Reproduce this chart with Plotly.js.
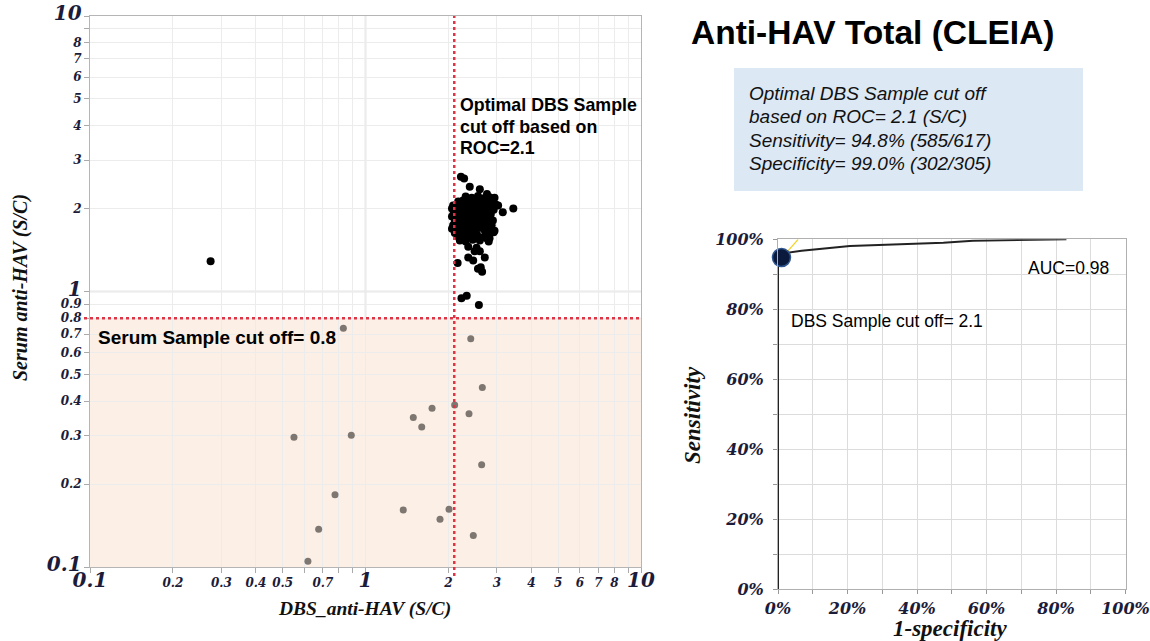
<!DOCTYPE html>
<html>
<head>
<meta charset="utf-8">
<script src="https://cdn.plot.ly/plotly-3.0.1.min.js"></script>
<style>html,body{margin:0;padding:0;background:#fff;}#chart{width:1150px;height:641px;}</style>
</head>
<body>
<div id="chart"></div>
<script>
// ---------- Data: scatter of DBS vs serum anti-HAV (S/C) ----------
// Serum-positive samples (black)
var pos_dbs = [
  2.22,2.28,2.39,2.60,2.76,2.94,3.44,3.03,3.15,
  2.31,2.43,2.56,2.69,2.82,
  2.17,2.26,2.37,2.49,2.62,2.76,2.90,
  2.08,2.15,2.24,2.33,2.45,2.58,2.71,2.85,2.97,
  2.06,2.13,2.22,2.31,2.41,2.52,2.64,2.78,2.92,
  2.09,2.18,2.28,2.37,2.47,2.60,2.73,2.85,
  2.06,2.15,2.24,2.35,2.45,2.56,2.69,2.83,
  2.11,2.20,2.31,2.41,2.52,2.64,2.78,2.90,
  2.08,2.17,2.26,2.37,2.47,2.60,2.73,2.87,
  2.06,2.15,2.24,2.33,2.43,2.56,2.69,2.85,2.94,
  2.11,2.22,2.31,2.43,2.54,2.76,2.92,
  2.17,2.26,2.39,2.52,2.69,2.82,2.75,
  2.20,2.31,2.45,2.60,2.80,
  2.36,2.53,2.60,2.49,2.71,2.36,2.46,2.16,2.62,2.65,2.56,
  2.23,2.33,2.58,
  0.274
];
var pos_serum = [
  2.61,2.57,2.40,2.35,2.26,2.19,2.00,2.05,1.94,
  2.21,2.19,2.22,2.18,2.20,
  2.12,2.14,2.13,2.11,2.14,2.12,2.13,
  2.05,2.07,2.06,2.04,2.07,2.05,2.06,2.04,2.07,
  2.00,1.99,2.01,1.98,2.00,2.01,1.99,2.00,1.98,
  1.93,1.94,1.92,1.93,1.95,1.92,1.93,1.91,
  1.87,1.86,1.88,1.85,1.87,1.86,1.88,1.85,
  1.80,1.81,1.79,1.80,1.82,1.79,1.80,1.81,
  1.74,1.75,1.73,1.75,1.74,1.76,1.73,1.74,
  1.69,1.68,1.70,1.69,1.67,1.70,1.68,1.69,1.66,
  1.63,1.64,1.62,1.63,1.61,1.62,1.64,
  1.58,1.57,1.59,1.57,1.58,1.56,1.56,
  1.53,1.52,1.54,1.53,1.52,
  1.455,1.44,1.40,1.40,1.33,1.33,1.295,1.27,1.225,1.18,1.21,
  0.945,0.966,0.894,
  1.287
];
// Serum-negative samples (grey)
var neg_dbs   = [0.831,0.55,0.888,0.775,0.676,0.618,2.41,2.655,2.107,1.744,1.491,2.375,1.60,2.64,1.371,2.01,1.864,2.462];
var neg_serum = [0.735,0.296,0.301,0.183,0.137,0.105,0.674,0.448,0.387,0.377,0.349,0.36,0.322,0.235,0.161,0.162,0.149,0.130];

// Cut-offs
var dbs_cutoff = 2.1;
var serum_cutoff = 0.8;

// Log-axis ticks
var log_tick_vals = [0.1,0.2,0.3,0.4,0.5,0.6,0.7,0.8,0.9,1,2,3,4,5,6,7,8,9,10];
var x_tick_labels = ["0.1","0.2","0.3","0.4","0.5","","0.7","","","1","2","3","4","5","6","7","8","","10"];
var y_tick_labels = ["0.1","0.2","0.3","0.4","0.5","0.6","0.7","0.8","0.9","1","2","3","4","5","6","7","8","","10"];
var major_labels = ["0.1","1","10"];

// ---------- Data: ROC curve ----------
var roc_fpr = [0, 0, 0.012, 0.015, 0.068, 0.207, 0.476, 0.561, 0.83];
var roc_tpr = [0, 0.94, 0.948, 0.96, 0.967, 0.981, 0.990, 0.996, 1.0];
var opt_fpr = [0.01];
var opt_tpr = [0.948];
var leader_fpr = [0.012, 0.058];
var leader_tpr = [0.948, 1.0];
var roc_tick_vals = [0,0.1,0.2,0.3,0.4,0.5,0.6,0.7,0.8,0.9,1];
var roc_tick_labels = ["0%","","20%","","40%","","60%","","80%","","100%"];

// Text
var info_lines = ["Optimal DBS Sample cut off","based on ROC= 2.1 (S/C)","Sensitivity= 94.8% (585/617)","Specificity= 99.0% (302/305)"];
var dbs_note_lines = ["Optimal DBS Sample","cut off based on","ROC=2.1"];

// ---------- Build ----------
function fmtTicks(labels){
  return labels.map(function(t){
    return major_labels.indexOf(t) >= 0 ? '<span style="font-size:20px">' + t + '</span>' : t;
  });
}
var tickFont = {family:'"DejaVu Serif", serif', size:12, color:'#1c1c3a', weight:'bold', style:'italic'};
var rocTickFont = {family:'"DejaVu Serif", serif', size:16, color:'#1c1c3a', weight:'bold', style:'italic'};
var sans = '"Liberation Sans", Arial, sans-serif';

var traces = [
  {type:'scatter', mode:'markers', x:neg_dbs, y:neg_serum, xaxis:'x', yaxis:'y',
   marker:{color:'#7e7670', size:7}, hoverinfo:'x+y', showlegend:false},
  {type:'scatter', mode:'markers', x:pos_dbs, y:pos_serum, xaxis:'x', yaxis:'y',
   marker:{color:'#000000', size:8}, hoverinfo:'x+y', showlegend:false},
  {type:'scatter', mode:'lines', x:roc_fpr, y:roc_tpr, xaxis:'x2', yaxis:'y2',
   line:{color:'#222', width:2}, cliponaxis:false, showlegend:false},
  {type:'scatter', mode:'lines', x:leader_fpr, y:leader_tpr, xaxis:'x2', yaxis:'y2',
   line:{color:'#f2d224', width:1.2}, cliponaxis:false, showlegend:false},
  {type:'scatter', mode:'markers', x:opt_fpr, y:opt_tpr, xaxis:'x2', yaxis:'y2',
   marker:{color:'#0b1a3c', size:18, line:{color:'#2f558f', width:1.5}}, cliponaxis:false, showlegend:false}
];

var W = 1150, H = 641;
function px(v){return v/W;}
function py(v){return 1 - v/H;}

var annotations = [
  {xref:'paper', yref:'paper', x:px(689), y:py(33), xanchor:'left', yanchor:'middle', showarrow:false,
   text:'<b>Anti-HAV Total (CLEIA)</b>', font:{family:sans, size:33.5, color:'#000'}},
  {xref:'paper', yref:'paper', x:px(96), y:py(338), xanchor:'left', yanchor:'middle', showarrow:false,
   text:'<b>Serum Sample cut off= 0.8</b>', font:{family:sans, size:19, color:'#000'}},
  {xref:'paper', yref:'paper', x:px(1026), y:py(268), xanchor:'left', yanchor:'middle', showarrow:false,
   text:'AUC=0.98', font:{family:sans, size:17.5, color:'#000'}},
  {xref:'paper', yref:'paper', x:px(789), y:py(321), xanchor:'left', yanchor:'middle', showarrow:false,
   text:'DBS Sample cut off= 2.1', font:{family:sans, size:17.5, color:'#000'}},
  {xref:'paper', yref:'paper', x:px(364), y:py(609), xanchor:'center', yanchor:'middle', showarrow:false,
   text:'<b><i>DBS_anti-HAV (S/C)</i></b>', font:{family:'"Liberation Serif", serif', size:19.5, color:'#111'}},
  {xref:'paper', yref:'paper', x:px(20), y:py(288), xanchor:'center', yanchor:'middle', showarrow:false, textangle:-90,
   text:'<b><i>Serum anti-HAV (S/C)</i></b>', font:{family:'"Liberation Serif", serif', size:20, color:'#111'}},
  {xref:'paper', yref:'paper', x:px(693), y:py(415), xanchor:'center', yanchor:'middle', showarrow:false, textangle:-90,
   text:'<b><i>Sensitivity</i></b>', font:{family:'"Liberation Serif", serif', size:23, color:'#111'}},
  {xref:'paper', yref:'paper', x:px(950), y:py(628), xanchor:'center', yanchor:'middle', showarrow:false,
   text:'<b><i>1-specificity</i></b>', font:{family:'"Liberation Serif", serif', size:23, color:'#111'}}
];
var info_y = [94, 117, 140, 163];
info_lines.forEach(function(t, i){
  annotations.push({xref:'paper', yref:'paper', x:px(747), y:py(info_y[i]), xanchor:'left', yanchor:'middle', showarrow:false,
    text:'<i>' + t + '</i>', font:{family:sans, size:19, color:'#111'}});
});
var note_y = [105, 126.5, 148];
dbs_note_lines.forEach(function(t, i){
  annotations.push({xref:'paper', yref:'paper', x:px(458), y:py(note_y[i]), xanchor:'left', yanchor:'middle', showarrow:false,
    text:'<b>' + t + '</b>', font:{family:sans, size:17.8, color:'#000'}});
});

var layout = {
  width:W, height:H, autosize:false,
  margin:{l:0,r:0,t:0,b:0},
  paper_bgcolor:'#ffffff', plot_bgcolor:'#ffffff',
  showlegend:false,
  xaxis:{type:'log', domain:[px(90), px(641)], range:[-1,1], anchor:'y',
    tickmode:'array', tickvals:log_tick_vals, ticktext:fmtTicks(x_tick_labels),
    tickfont:tickFont, ticks:'outside', ticklen:5, tickcolor:'#aaa', ticklabeloverflow:'allow',
    showgrid:true, gridcolor:'#ececec', gridwidth:1,
    showline:true, linecolor:'#b5b5b5', linewidth:1, mirror:true, zeroline:false},
  yaxis:{type:'log', domain:[py(567), py(16)], range:[-1,1], anchor:'x',
    tickmode:'array', tickvals:log_tick_vals, ticktext:fmtTicks(y_tick_labels),
    tickfont:tickFont, ticks:'outside', ticklen:5, tickcolor:'#aaa', ticklabeloverflow:'allow',
    showgrid:true, gridcolor:'#ececec', gridwidth:1,
    showline:true, linecolor:'#b5b5b5', linewidth:1, mirror:true, zeroline:false},
  xaxis2:{domain:[px(778), px(1125.5)], range:[0,1], anchor:'y2',
    tickmode:'array', tickvals:roc_tick_vals, ticktext:roc_tick_labels,
    tickfont:rocTickFont, ticks:'outside', ticklen:4, tickcolor:'#999', ticklabeloverflow:'allow',
    showgrid:true, gridcolor:'#dcdcdc', showline:true, linecolor:'#b0b0b0', mirror:true, zeroline:false},
  yaxis2:{domain:[py(589.3), py(239.3)], range:[0,1], anchor:'x2',
    tickmode:'array', tickvals:roc_tick_vals, ticktext:roc_tick_labels,
    tickfont:rocTickFont, ticks:'outside', ticklen:4, tickcolor:'#999', ticklabelstandoff:6, ticklabeloverflow:'allow',
    showgrid:true, gridcolor:'#dcdcdc', showline:true, linecolor:'#b0b0b0', mirror:true, zeroline:false},
  shapes:[
    {type:'rect', xref:'x', yref:'y', x0:0.1, x1:10, y0:0.1, y1:serum_cutoff,
     fillcolor:'#fcefe6', line:{width:0}, layer:'below'},
    {type:'line', xref:'x', yref:'paper', x0:1, x1:1, y0:py(567), y1:py(16),
     line:{color:'#cfcfcf', width:1.5}, layer:'below'},
    {type:'line', xref:'paper', yref:'y', x0:px(90), x1:px(641), y0:1, y1:1,
     line:{color:'#cfcfcf', width:1.5}, layer:'below'},
    {type:'line', xref:'x', yref:'paper', x0:dbs_cutoff, x1:dbs_cutoff, y0:py(576), y1:py(16),
     line:{color:'#dc3545', width:2.5, dash:'3px,3px'}},
    {type:'line', xref:'paper', yref:'y', x0:px(84), x1:px(641), y0:serum_cutoff, y1:serum_cutoff,
     line:{color:'#dc3545', width:2.5, dash:'3px,3px'}},
    {type:'rect', xref:'paper', yref:'paper', x0:px(734), x1:px(1083), y0:py(191), y1:py(68),
     fillcolor:'#dce8f4', line:{width:0}, layer:'below'}
  ],
  annotations:annotations
};

Plotly.newPlot('chart', traces, layout, {staticPlot:true, displayModeBar:false});
</script>
</body>
</html>
